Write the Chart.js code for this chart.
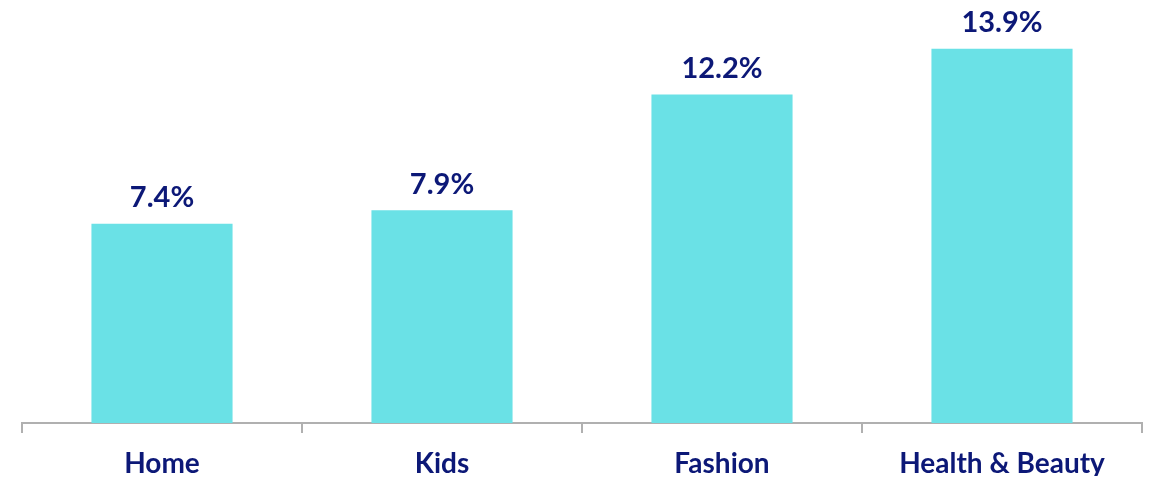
<!DOCTYPE html>
<html>
<head>
<meta charset="utf-8">
<script src="https://cdn.jsdelivr.net/npm/chart.js@4"></script>
<style>
  html, body { margin: 0; padding: 0; background: #ffffff; }
  #wrap { width: 1152px; height: 479px; position: relative; }
</style>
</head>
<body>
<div id="wrap"><canvas id="c"></canvas></div>
<script>
const categories = ["Home", "Kids", "Fashion", "Health & Beauty"];
const values = [7.4, 7.9, 12.2, 13.9];
const valueLabels = ["7.4%", "7.9%", "12.2%", "13.9%"];

const navy = "#0c1877";
const fontFamily = "Lato, 'Noto Sans', sans-serif";

const labelPlugin = {
  id: "valueLabels",
  afterDatasetsDraw(chart) {
    const ctx = chart.ctx;
    const meta = chart.getDatasetMeta(0);
    ctx.save();
    ctx.fillStyle = navy;
    ctx.font = "bold 29px " + fontFamily;
    ctx.textAlign = "center";
    ctx.textBaseline = "middle";
    meta.data.forEach((bar, i) => {
      ctx.fillText(valueLabels[i], bar.x, bar.y - 26);
    });
    ctx.restore();
  }
};

new Chart(document.getElementById("c"), {
  type: "bar",
  data: {
    labels: categories,
    datasets: [{
      data: values,
      backgroundColor: "#6ae1e6",
      borderWidth: 0,
      barPercentage: 0.504,
      categoryPercentage: 1.0
    }]
  },
  options: {
    responsive: true,
    maintainAspectRatio: false,
    animation: false,
    layout: { padding: { top: 19, left: 22, right: 10, bottom: 3 } },
    plugins: { legend: { display: false }, tooltip: { enabled: false } },
    scales: {
      y: { display: false, min: 0, max: 15 },
      x: {
        afterFit(scale) { scale.height = 53; },
        grid: { drawOnChartArea: false, drawTicks: true, tickLength: 10, color: "#b0b0b0", lineWidth: 2, offset: true },
        border: { display: true, color: "#b0b0b0", width: 2 },
        ticks: { color: navy, padding: 14, font: { family: fontFamily, size: 28, weight: "bold", lineHeight: 1.2 }, maxRotation: 0 }
      }
    }
  },
  plugins: [labelPlugin]
});
</script>
</body>
</html>
